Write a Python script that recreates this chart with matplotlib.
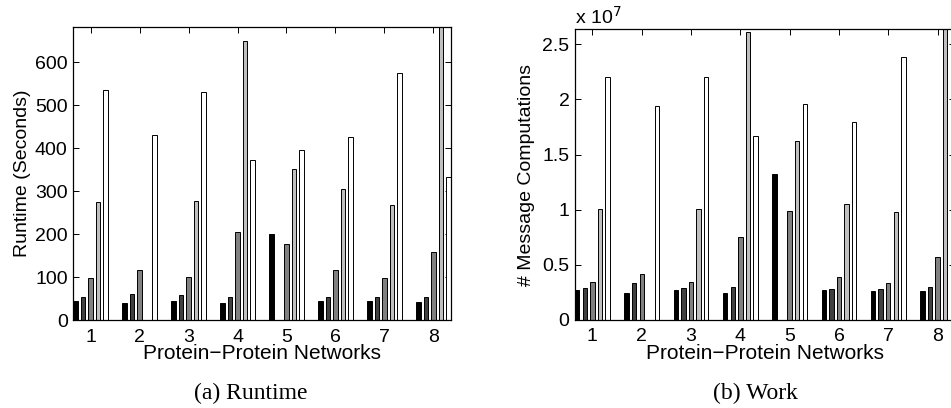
import matplotlib
matplotlib.use("Agg")
import matplotlib.pyplot as plt
import numpy as np

# runtime (seconds), 5 bars per network; None = not available
networks = ["1", "2", "3", "4", "5", "6", "7", "8"]
runtime = [
    [44, 40, 44, 40, 201, 46, 44, 43],
    [54, 62, 58, 55, None, 54, 55, 54],
    [98, 117, 100, 205, 177, 117, 98, 159],
    [275, None, 278, 649, 353, 305, 269, 683],
    [535, 432, 532, 372, 397, 427, 576, 334],
]
# message computations
work = [
    [0.272e7, 0.245e7, 0.272e7, 0.242e7, 1.326e7, 0.272e7, 0.263e7, 0.266e7],
    [0.287e7, 0.335e7, 0.290e7, 0.296e7, None, 0.281e7, 0.281e7, 0.296e7],
    [0.341e7, 0.417e7, 0.341e7, 0.749e7, 0.991e7, 0.387e7, 0.332e7, 0.568e7],
    [1.006e7, None, 1.006e7, 2.608e7, 1.620e7, 1.048e7, 0.976e7, 2.636e7],
    [2.200e7, 1.943e7, 2.200e7, 1.668e7, 1.955e7, 1.792e7, 2.387e7, 1.496e7],
]
bar_colors = ["#000000", "#404040", "#808080", "#bfbfbf", "#ffffff"]

plt.rcParams["font.family"] = ["Liberation Sans", "DejaVu Sans"]
plt.rcParams["font.size"] = 14

W, H = 951, 408
fig = plt.figure(figsize=(W / 100, H / 100), dpi=100)


def px_axes(x0, y0, x1, y1):
    return fig.add_axes([x0 / W, 1 - y1 / H, (x1 - x0) / W, (y1 - y0) / H])


def grouped_bars(ax, series, scale=1.0):
    x = np.arange(1, len(networks) + 1)
    n = len(series)
    step = 0.154
    width = 0.09
    for i, vals in enumerate(series):
        v = np.array([np.nan if a is None else a / scale for a in vals], dtype=float)
        ok = ~np.isnan(v)
        ax.bar(x[ok] + (i - (n - 1) / 2) * step, v[ok], width=width,
               color=bar_colors[i], edgecolor="black", linewidth=0.7, zorder=2)
    ax.set_xlim(1 - 2 * step - width / 2, len(networks) + 2 * step + width / 2)
    ax.set_xticks(x)
    ax.set_xticklabels(networks)
    ax.tick_params(direction="in", length=4, width=0.7, top=True, right=True,
                   labelsize=14)
    ax.tick_params(axis="x", pad=6)
    ax.tick_params(axis="y", pad=4)
    for s in ax.spines.values():
        s.set_linewidth(0.9)
    ax.set_xlabel("Protein\u2212Protein Networks", fontsize=15, labelpad=-1)


# (a) runtime
ax1 = px_axes(73.3, 26.7, 450.7, 320.3)
grouped_bars(ax1, runtime)
ax1.set_ylim(0, max(max(a for a in r if a is not None) for r in runtime))
ax1.set_yticks([0, 100, 200, 300, 400, 500, 600])
ax1.set_ylabel("Runtime (Seconds)", fontsize=14, labelpad=3)

# (b) work
ax2 = px_axes(575, 29.3, 955, 320)
grouped_bars(ax2, work, scale=1e7)
ax2.set_ylim(0, max(max(a for a in r if a is not None) for r in work) / 1e7)
ax2.set_yticks([0, 0.5, 1, 1.5, 2, 2.5])
ax2.set_yticklabels(["0", "0.5", "1", "1.5", "2", "2.5"])
ax2.set_ylabel("# Message Computations", fontsize=14, labelpad=5)
fig.text(575 / W, 1 - 24 / H, "x 10$^{7}$", fontsize=14, ha="left", va="baseline")

# captions
fig.text(251 / W, 1 - 399 / H, "(a) Runtime", family="Liberation Serif",
         fontsize=17, ha="center", va="baseline")
fig.text(755 / W, 1 - 399 / H, "(b) Work", family="Liberation Serif",
         fontsize=17, ha="center", va="baseline")

fig.savefig("out.png", dpi=100)
